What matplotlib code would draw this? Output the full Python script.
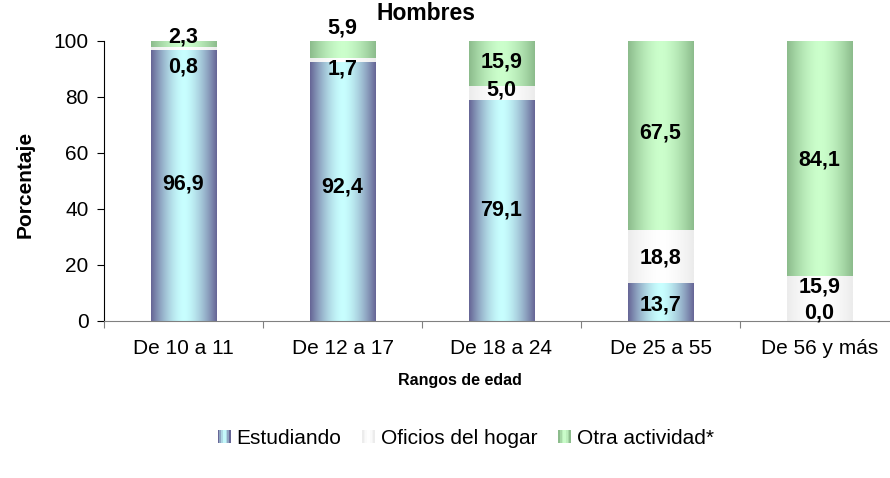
import numpy as np
import matplotlib
matplotlib.use("Agg")
import matplotlib.pyplot as plt
from matplotlib.colors import to_rgb
from matplotlib.patches import Rectangle
from matplotlib.legend_handler import HandlerBase

plt.rcParams['font.family'] = ['Liberation Sans', 'DejaVu Sans']

categories = ["De 10 a 11", "De 12 a 17", "De 18 a 24", "De 25 a 55", "De 56 y más"]
series_names = ["Estudiando", "Oficios del hogar", "Otra actividad*"]
estudiando = [96.9, 92.4, 79.1, 13.7, 0.0]
oficios = [0.8, 1.7, 5.0, 18.8, 15.9]
otra = [2.3, 5.9, 15.9, 67.5, 84.1]
series = [estudiando, oficios, otra]
yticks = [0, 20, 40, 60, 80, 100]

# gradient (edge, center) colours per series
grad_cols = [("#676797", "#c8ffff"), ("#ececec", "#ffffff"), ("#8cbc8c", "#ccffcc")]
# manual label shifts (data units) for crowded labels: [series][category]
label_shift = [
    [0.45, 1.7, 0.05, -1.15, 2.9],
    [-6.6, -3.25, 0.9, -0.6, 4.15],
    [2.55, 7.55, 0.45, 0.85, -0.45],
]


def make_grad(edge, center, n=64):
    u = np.linspace(0, 1, n)
    t = np.abs(2 * u - 1) ** 1.6
    e = np.array(to_rgb(edge))
    c = np.array(to_rgb(center))
    cols = c[None, :] * (1 - t[:, None]) + e[None, :] * t[:, None]
    return cols[None, :, :]


fig = plt.figure(figsize=(8.9, 4.78), dpi=100)
ax = fig.add_axes([104 / 890, (478 - 321) / 478, 795 / 890, 280 / 478])

x = np.arange(len(categories))
width = 0.415
bottom = np.zeros(len(categories))
for si, vals in enumerate(series):
    vals = np.array(vals)
    bars = ax.bar(x, vals, width, bottom=bottom, color=grad_cols[si][1], linewidth=0, zorder=1)
    g = make_grad(*grad_cols[si])
    for ci, p in enumerate(bars.patches):
        x0, y0 = p.get_x(), p.get_y()
        w, h = p.get_width(), p.get_height()
        if h > 0:
            im = ax.imshow(g, extent=[x0, x0 + w, y0, y0 + h], aspect='auto', zorder=2, interpolation='bilinear')
            im.set_clip_path(p)
        cy = y0 + h / 2 + label_shift[si][ci]
        ax.text(x[ci], cy, f"{vals[ci]:.1f}".replace('.', ','), ha='center', va='center',
                fontsize=15.5, fontweight='bold', color='black', zorder=5, clip_on=False)
    bottom = bottom + vals

ax.set_xlim(-0.5, len(categories) - 0.5)
ax.set_ylim(0, 100)
ax.set_yticks(yticks)
ax.tick_params(axis='y', labelsize=15, length=5, width=0.8, pad=6, direction='out')
ax.set_xticks(np.arange(len(categories) + 1) - 0.5)
ax.set_xticklabels([])
ax.set_xticks(x, minor=True)
ax.set_xticklabels(categories, minor=True)
ax.tick_params(axis='x', which='major', length=5, width=0.8, color='#808080', direction='out')
ax.tick_params(axis='x', which='minor', length=0, labelsize=15, pad=13)
for s in ['top', 'right']:
    ax.spines[s].set_visible(False)
ax.spines['bottom'].set_color('#808080')
ax.spines['left'].set_color('black')
ax.spines['left'].set_linewidth(0.8)

fig.text(426 / 890, 1 - 14 / 478, "Hombres", ha='center', va='center', fontsize=16.5, fontweight='bold')
fig.text(25 / 890, 1 - 184 / 478, "Porcentaje", ha='center', va='center', rotation=90, fontsize=15, fontweight='bold')
fig.text(460 / 890, 1 - 381 / 478, "Rangos de edad", ha='center', va='center',
         fontsize=11.5, fontweight='bold')


class GradHandler(HandlerBase):
    def __init__(self, cols):
        super().__init__()
        self.cols = cols

    def create_artists(self, legend, orig_handle, xdescent, ydescent, width, height, fontsize, trans):
        arts = []
        n = 8
        g = make_grad(*self.cols, n=n)[0]
        s = min(width, height)
        x0 = -xdescent + (width - s)
        for i in range(n):
            r = Rectangle((x0 + i * s / n, -ydescent), s / n + 0.2, s, facecolor=g[i], edgecolor='none', transform=trans)
            arts.append(r)
        return arts


handles = [Rectangle((0, 0), 1, 1) for _ in series_names]
hmap = {h: GradHandler(grad_cols[i]) for i, h in enumerate(handles)}
fig.legend(handles, series_names, handler_map=hmap, loc='center', bbox_to_anchor=(466 / 890, 1 - 438 / 478),
           ncol=3, frameon=False, fontsize=15, handlelength=0.6, handleheight=0.6, handletextpad=0.3,
           columnspacing=1.0)

fig.savefig("out.png", dpi=100)
